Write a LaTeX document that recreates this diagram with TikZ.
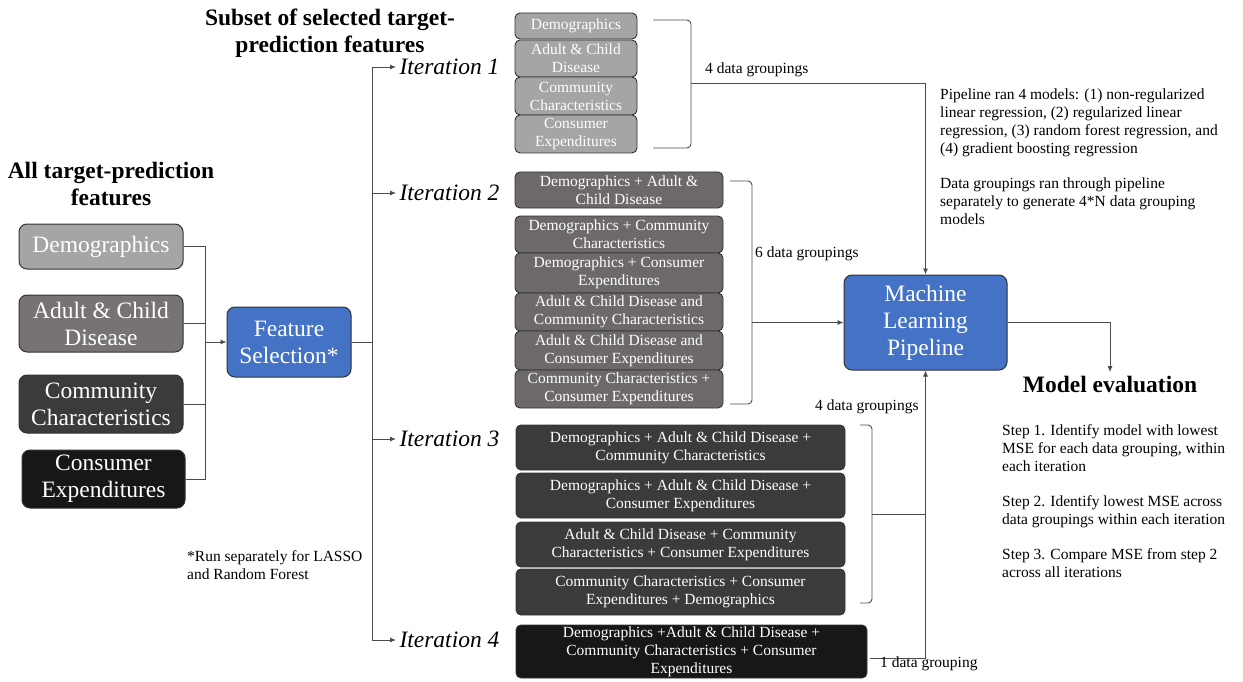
\documentclass[tikz,border=0pt]{standalone}
\usepackage{fontspec}
\setmainfont{Liberation Serif}
\usetikzlibrary{arrows.meta}
\definecolor{fsblue}{HTML}{4472C4}
\definecolor{lgray}{HTML}{A6A4A4}
\definecolor{mgray}{HTML}{777373}
\definecolor{ngray}{HTML}{6D6969}
\definecolor{dgray}{HTML}{3C3A3A}
\definecolor{bgray}{HTML}{171717}
\newcommand{\bigsz}{\fontsize{23.5}{27}\selectfont}
\newcommand{\smsz}{\fontsize{15.5}{18}\selectfont}

\begin{document}
\begin{tikzpicture}[x=1pt,y=-1pt,
  lbox/.style={draw=black!80,line width=1pt,rounded corners=8pt,text=white,align=center,inner sep=0pt,font=\bigsz},
  gbox/.style={draw=black!80,line width=0.9pt,rounded corners=5pt,text=white,align=center,inner sep=0pt,font=\smsz},
  conn/.style={draw=black!70,line width=0.9pt},
  brk/.style={conn,rounded corners=4pt},
  arr/.style={conn,-{Latex[length=6pt,width=5pt]}},
  lbl/.style={font=\smsz,inner sep=0pt,align=left},
  iter/.style={font=\bigsz\itshape,anchor=west}]
\useasboundingbox (0,0) rectangle (1243,682);
%\draw[help lines,step=50] (0,0) grid (1243,682);

% titles
\node[font=\bigsz\bfseries,align=center] (t1) at (111,184) {All target-prediction\\features};
\node[font=\bigsz\bfseries,align=center] (t2) at (330,33) {Subset of selected target-\\prediction features};

% all features
\node[lbox,fill=lgray,minimum width=164,minimum height=45] (dem) at (101,246.5) {Demographics};
\node[lbox,fill=mgray,minimum width=164,minimum height=57] (acd) at (101,323.5) {Adult \& Child\\Disease};
\node[lbox,fill=dgray,minimum width=164,minimum height=58] (com) at (101,404) {Community\\Characteristics};
\node[lbox,fill=bgray,minimum width=163,minimum height=58] (con) at (103.5,479) {Consumer\\Expenditures};
\node[lbox,fill=fsblue,minimum width=124,minimum height=70] (fs) at (289,342) {Feature\\Selection*};

\coordinate (bus) at (205,342);
\draw[conn] (dem.east) -| (bus);
\draw[conn] (acd.east) -| (bus);
\draw[conn] (com.east) -| (bus);
\draw[conn] (con.east) -| (bus);
\draw[arr] (bus) -- (fs.west);

\node[lbl,anchor=north west] (note) at (187,550) {*Run separately for LASSO\\and Random Forest};

% iterations
\node[iter] (it1) at (396,67) {Iteration 1};
\node[iter] (it2) at (396,193) {Iteration 2};
\node[iter] (it3) at (396,439) {Iteration 3};
\node[iter] (it4) at (396,640) {Iteration 4};
\coordinate (sp) at (372,342);
\draw[conn] (fs.east) -- (sp);
\draw[arr] (sp) |- (it1.west);
\draw[arr] (sp) |- (it2.west);
\draw[arr] (sp) |- (it3.west);
\draw[arr] (sp) |- (it4.west);

% iteration 1
\node[gbox,fill=lgray,minimum width=122,minimum height=26] (g1a) at (576,26) {Demographics};
\node[gbox,fill=lgray,minimum width=122,minimum height=37] (g1b) at (576,58.5) {Adult \& Child\\Disease};
\node[gbox,fill=lgray,minimum width=122,minimum height=38] (g1c) at (576,96) {Community\\Characteristics};
\node[gbox,fill=lgray,minimum width=122,minimum height=38] (g1d) at (576,134) {Consumer\\Expenditures};
\draw[brk] (653,20) -| (691,148) -- (653,148);
\coordinate (b1) at (691,83);

% iteration 2
\node[gbox,fill=ngray,minimum width=208,minimum height=36] (g2a) at (619,190) {Demographics + Adult \&\\Child Disease};
\node[gbox,fill=ngray,minimum width=208,minimum height=37] (g2b) at (619,234.5) {Demographics + Community\\Characteristics};
\node[gbox,fill=ngray,minimum width=208,minimum height=40] (g2c) at (619,273) {Demographics + Consumer\\Expenditures};
\node[gbox,fill=ngray,minimum width=208,minimum height=38] (g2d) at (619,312) {Adult \& Child Disease and\\Community Characteristics};
\node[gbox,fill=ngray,minimum width=208,minimum height=39] (g2e) at (619,350.5) {Adult \& Child Disease and\\Consumer Expenditures};
\node[gbox,fill=ngray,minimum width=208,minimum height=38] (g2f) at (619,389) {Community Characteristics +\\Consumer Expenditures};
\draw[brk] (730,181) -| (752,404) -- (730,404);
\coordinate (b2) at (752,322.5);

% iteration 3
\node[gbox,fill=dgray,minimum width=329,minimum height=45] (g3a) at (680.5,447.5) {Demographics + Adult \& Child Disease +\\Community Characteristics};
\node[gbox,fill=dgray,minimum width=329,minimum height=45] (g3b) at (680.5,495.5) {Demographics + Adult \& Child Disease +\\Consumer Expenditures};
\node[gbox,fill=dgray,minimum width=329,minimum height=45] (g3c) at (680.5,544.5) {Adult \& Child Disease + Community\\Characteristics + Consumer Expenditures};
\node[gbox,fill=dgray,minimum width=329,minimum height=46] (g3d) at (680.5,592) {Community Characteristics + Consumer\\Expenditures + Demographics};
\draw[brk] (860,425) -| (872,603) -- (860,603);
\coordinate (b3) at (872,514);

% iteration 4
\node[gbox,fill=bgray,minimum width=351,minimum height=53] (g4) at (691.5,651.5) {Demographics +Adult \& Child Disease +\\Community Characteristics + Consumer\\Expenditures};
\coordinate (c4) at (870,658);

% pipeline
\node[lbox,fill=fsblue,minimum width=163,minimum height=95] (ml) at (925.5,322.5) {Machine\\Learning\\Pipeline};
\draw[arr] (b1) -| (ml.north);
\draw[arr] (b2) -- (ml.west);
\draw[conn] (b3) -- (b3 -| ml.south);
\draw[arr] (c4) -| (ml.south);

\node[lbl,anchor=west] (n1) at (705,70) {4 data groupings};
\node[lbl,anchor=west] (n2) at (755,254) {6 data groupings};
\node[lbl,anchor=west] (n3) at (815,407) {4 data groupings};
\node[lbl,anchor=west] (n4) at (880,664) {1 data grouping};

\node[lbl,anchor=north west] (pinfo) at (940,89) {Pipeline ran 4 models: (1) non-regularized\\linear regression, (2) regularized linear\\regression, (3) random forest regression, and\\(4) gradient boosting regression\\[17pt]Data groupings ran through pipeline\\separately to generate 4*N data grouping\\models};

% evaluation
\node[font=\bigsz\bfseries] (me) at (1110,384) {Model evaluation};
\draw[arr] (ml.east) -| (me.north);
\node[lbl,anchor=north west] (steps) at (1002,424) {Step 1. Identify model with lowest\\MSE for each data grouping, within\\each iteration\\[17pt]Step 2. Identify lowest MSE across\\data groupings within each iteration\\[17pt]Step 3. Compare MSE from step 2\\across all iterations};
\end{tikzpicture}
\end{document}
